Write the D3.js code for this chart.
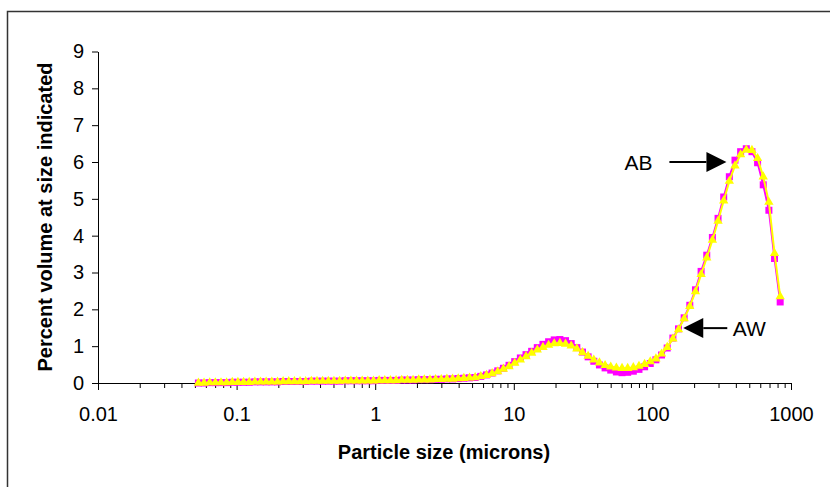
<!DOCTYPE html>
<html>
<head>
<meta charset="utf-8">
<script src="https://cdn.jsdelivr.net/npm/d3@7"></script>
<style>
  body { margin: 0; background: #fff; }
  svg { display: block; font-family: "Liberation Sans", Arial, sans-serif; }
</style>
</head>
<body>
<svg width="830" height="487"></svg>
<script>
// particle size channels (microns)
var sizes = [0.05301, 0.05822, 0.06395, 0.07024, 0.07715, 0.08474, 0.09307, 0.1022, 0.1123, 0.1233,
  0.1355, 0.1488, 0.1634, 0.1795, 0.1972, 0.2166, 0.2379, 0.2613, 0.2870, 0.3152,
  0.3462, 0.3803, 0.4177, 0.4588, 0.5039, 0.5535, 0.6080, 0.6678, 0.7335, 0.8056,
  0.8849, 0.9719, 1.068, 1.173, 1.288, 1.415, 1.554, 1.707, 1.875, 2.059,
  2.262, 2.484, 2.729, 2.997, 3.292, 3.616, 3.972, 4.362, 4.791, 5.263,
  5.780, 6.349, 6.974, 7.660, 8.414, 9.242, 10.15, 11.15, 12.25, 13.45,
  14.77, 16.23, 17.83, 19.58, 21.51, 23.62, 25.95, 28.50, 31.30, 34.38,
  37.77, 41.48, 45.56, 50.04, 54.97, 60.38, 66.32, 72.84, 80.00, 87.87,
  96.52, 106.0, 116.4, 127.9, 140.5, 154.3, 169.5, 186.1, 204.5, 224.6,
  246.7, 270.9, 297.6, 326.9, 359.0, 394.3, 433.1, 475.8, 522.6, 574.0,
  630.5, 692.5, 760.6, 835.5];

// AB (magenta squares)
var abValues = [0.00, 0.00, 0.01, 0.01, 0.01, 0.01, 0.02, 0.02, 0.02, 0.02,
  0.03, 0.03, 0.03, 0.03, 0.03, 0.04, 0.04, 0.04, 0.04, 0.04,
  0.05, 0.05, 0.05, 0.05, 0.05, 0.05, 0.06, 0.06, 0.06, 0.06,
  0.06, 0.06, 0.07, 0.07, 0.07, 0.07, 0.08, 0.08, 0.08, 0.09,
  0.09, 0.09, 0.10, 0.10, 0.11, 0.11, 0.12, 0.13, 0.14, 0.15,
  0.18, 0.22, 0.27, 0.33, 0.40, 0.48, 0.58, 0.68, 0.77, 0.86,
  0.96, 1.05, 1.12, 1.17, 1.18, 1.15, 1.07, 0.96, 0.84, 0.71,
  0.59, 0.49, 0.41, 0.35, 0.30, 0.28, 0.29, 0.32, 0.37, 0.44,
  0.53, 0.63, 0.76, 0.95, 1.22, 1.47, 1.77, 2.11, 2.53, 3.03,
  3.47, 3.95, 4.47, 5.05, 5.60, 6.05, 6.28, 6.36, 6.28, 5.98,
  5.38, 4.69, 3.38, 2.20];

// AW (yellow triangles)
var awValues = [0.00, 0.00, 0.01, 0.01, 0.01, 0.01, 0.02, 0.02, 0.02, 0.02,
  0.03, 0.03, 0.03, 0.03, 0.03, 0.04, 0.04, 0.04, 0.04, 0.04,
  0.05, 0.05, 0.05, 0.05, 0.05, 0.05, 0.06, 0.06, 0.06, 0.06,
  0.06, 0.06, 0.07, 0.07, 0.07, 0.07, 0.08, 0.08, 0.08, 0.09,
  0.09, 0.09, 0.10, 0.10, 0.11, 0.11, 0.12, 0.13, 0.14, 0.15,
  0.18, 0.21, 0.26, 0.31, 0.38, 0.45, 0.54, 0.63, 0.72, 0.81,
  0.90, 0.97, 1.03, 1.07, 1.08, 1.06, 1.01, 0.93, 0.83, 0.73,
  0.63, 0.55, 0.48, 0.44, 0.41, 0.40, 0.40, 0.42, 0.46, 0.51,
  0.58, 0.66, 0.79, 0.97, 1.20, 1.45, 1.75, 2.08, 2.48, 2.95,
  3.40, 3.88, 4.40, 4.95, 5.48, 5.90, 6.20, 6.33, 6.32, 6.10,
  5.60, 4.91, 3.52, 2.35];

var yTicks = [0, 1, 2, 3, 4, 5, 6, 7, 8, 9];
var xTicks = [0.01, 0.1, 1, 10, 100, 1000];
var xTickLabels = ["0.01", "0.1", "1", "10", "100", "1000"];

// arrow annotations: label, tip position in data units, direction, tail and label offsets
var notes = [
  {label: "AB", x: 342, y: 6.0, dir: 1, tail: 57, text: 88},
  {label: "AW", x: 167, y: 1.49, dir: -1, tail: 44, text: 66}
];

var svg = d3.select("svg");

// chart area border (runs off right and bottom)
svg.append("rect")
  .attr("x", 7.5).attr("y", 11.5)
  .attr("width", 900).attr("height", 600)
  .style("fill", "none")
  .style("stroke", "#333")
  .style("stroke-width", 1.5);

var x = d3.scaleLog().domain([0.01, 1000]).range([98, 791]);
var y = d3.scaleLinear().domain([0, 9]).range([383, 51.5]);

// minor ticks 2..9 per decade
var minor = [];
xTicks.slice(0, -1).forEach(function(d) {
  for (var k = 2; k < 10; k++) minor.push(d * k);
});

var g = svg.append("g");

g.append("g")
  .attr("transform", "translate(0,383)")
  .call(d3.axisBottom(x).tickValues(minor).tickSize(5).tickFormat(""))
  .call(function(s) { s.select(".domain").remove(); });

var xAxis = g.append("g")
  .attr("transform", "translate(0,383)")
  .call(d3.axisBottom(x).tickValues(xTicks).tickSize(7).tickSizeOuter(0).tickPadding(17)
    .tickFormat(function(d, i) { return xTickLabels[i]; }));

var yAxis = g.append("g")
  .attr("transform", "translate(98,0)")
  .call(d3.axisLeft(y).tickValues(yTicks).tickSize(6).tickSizeOuter(0).tickPadding(8));

g.selectAll(".tick text").style("font-size", "20px").style("fill", "#000").style("font-family", "inherit");
g.selectAll(".domain, .tick line").style("stroke", "#000");

// series
function drawSeries(vals, color, shape, size) {
  var pts = sizes.map(function(s, i) { return [s, vals[i]]; });
  var line = d3.line().x(function(d) { return x(d[0]); }).y(function(d) { return y(d[1]); });
  svg.append("path")
    .datum(pts)
    .attr("d", line)
    .style("fill", "none")
    .style("stroke", color)
    .style("stroke-width", 2);
  svg.append("g").selectAll("path")
    .data(pts)
    .enter()
    .append("path")
    .attr("transform", function(d) { return "translate(" + x(d[0]) + "," + y(d[1]) + ")"; })
    .attr("d", d3.symbol().type(shape).size(size))
    .style("fill", color);
}
drawSeries(abValues, "#FF00FF", d3.symbolSquare, 49);
drawSeries(awValues, "#FFFF00", d3.symbolTriangle, 38);

// annotations
notes.forEach(function(n) {
  var tx = x(n.x), ty = y(n.y);
  var base = tx - n.dir * 20;
  var tail = tx - n.dir * n.tail;
  svg.append("line")
    .attr("x1", base).attr("y1", ty).attr("x2", tail).attr("y2", ty)
    .style("stroke", "#000").style("stroke-width", 2);
  svg.append("path")
    .attr("d", "M" + tx + "," + ty + "L" + base + "," + (ty - 10) + "L" + base + "," + (ty + 10) + "Z")
    .style("fill", "#000");
  svg.append("text")
    .attr("x", tx - n.dir * n.text)
    .attr("y", ty)
    .attr("dy", "0.36em")
    .attr("text-anchor", "middle")
    .style("font-size", "21px")
    .text(n.label);
});

// axis titles
svg.append("text")
  .attr("x", 444).attr("y", 459)
  .attr("text-anchor", "middle")
  .style("font-size", "20px").style("font-weight", "bold")
  .text("Particle size (microns)");

svg.append("text")
  .attr("transform", "translate(52,217) rotate(-90)")
  .attr("text-anchor", "middle")
  .style("font-size", "20px").style("font-weight", "bold")
  .text("Percent volume at size indicated");
</script>
</body>
</html>
